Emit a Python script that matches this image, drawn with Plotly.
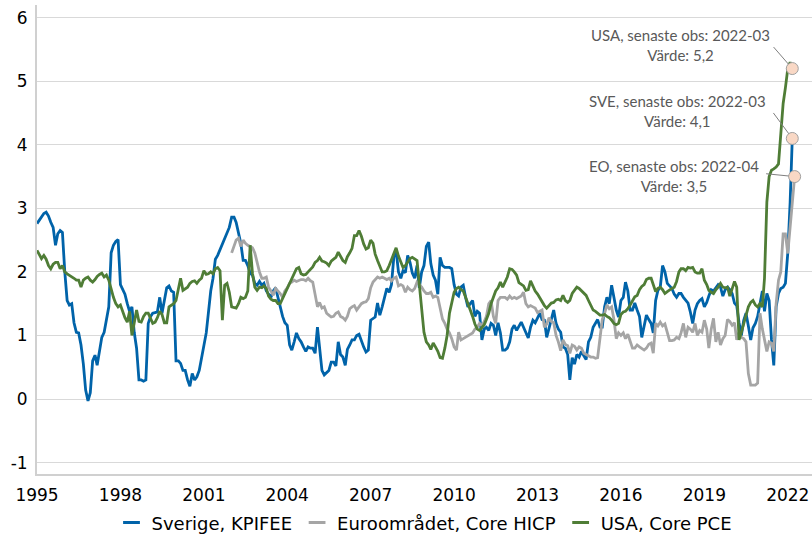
import pandas as pd
import plotly.graph_objects as go

# monthly core inflation, % y/y
sve_start = "1995-01-01"
sve = [
    2.76, 2.82, 2.86, 2.92, 2.94, 2.88, 2.78, 2.70, 2.42, 2.60, 2.65, 2.62,  # 1995
    2.00, 1.55, 1.48, 1.50, 1.20, 1.05, 1.04, 0.85, 0.55, 0.14, -0.03, 0.10,  # 1996
    0.60, 0.69, 0.53, 0.75, 0.97, 1.05, 1.28, 1.45, 2.30, 2.42, 2.48, 2.51,  # 1997
    1.80, 1.72, 1.65, 1.50, 1.38, 1.45, 1.05, 0.80, 0.30, 0.30, 0.28, 0.30,  # 1998
    1.19, 1.30, 1.35, 1.36, 1.37, 1.60, 1.35, 1.55, 1.75, 1.78, 1.70, 1.68,  # 1999
    0.60, 0.60, 0.56, 0.45, 0.45, 0.30, 0.20, 0.40, 0.30, 0.35, 0.45, 0.64,  # 2000
    0.82, 1.04, 1.35, 1.70, 1.90, 2.20, 2.26, 2.35, 2.46, 2.55, 2.62, 2.70,  # 2001
    2.86, 2.86, 2.78, 2.60, 2.45, 2.18, 2.18, 2.10, 1.98, 1.95, 1.82, 1.79,  # 2002
    1.85, 1.79, 1.82, 1.70, 1.64, 1.60, 1.70, 1.75, 1.60, 1.45, 1.30, 1.20,  # 2003
    1.16, 0.85, 0.77, 0.90, 1.04, 0.95, 0.90, 0.82, 0.75, 0.82, 0.80, 0.80,  # 2004
    0.72, 1.13, 0.75, 0.45, 0.38, 0.42, 0.45, 0.58, 0.58, 0.52, 0.90, 0.70,  # 2005
    0.66, 0.53, 0.78, 0.85, 0.93, 0.93, 1.00, 1.02, 0.90, 0.82, 0.74, 0.77,  # 2006
    1.24, 1.27, 1.29, 1.51, 1.32, 1.45, 1.62, 1.74, 1.68, 1.80, 2.23, 2.34,  # 2007
    2.00, 1.90, 2.02, 1.99, 2.26, 2.15, 1.98, 1.90, 2.10, 1.75, 2.00, 2.10,  # 2008
    2.40, 2.47, 2.13, 1.95, 1.87, 1.65, 2.23, 2.10, 2.07, 2.07, 2.07, 2.05,  # 2009
    1.80, 1.65, 1.62, 1.76, 1.79, 1.60, 1.45, 1.50, 1.55, 1.30, 1.38, 1.35,  # 2010
    0.93, 1.10, 1.13, 1.08, 1.19, 1.16, 1.00, 1.20, 1.04, 0.77, 0.77, 0.80,  # 2011
    0.90, 1.10, 1.16, 1.08, 1.15, 1.21, 1.13, 1.05, 0.96, 1.13, 1.24, 1.20,  # 2012
    1.27, 1.35, 1.25, 1.24, 0.97, 1.13, 1.24, 1.40, 1.19, 1.10, 1.05, 0.82,  # 2013
    0.80, 0.70, 0.30, 0.65, 0.55, 0.70, 0.66, 0.75, 0.68, 0.62, 0.90, 0.97,  # 2014
    1.13, 1.20, 1.25, 1.13, 1.13, 1.45, 1.60, 1.50, 1.79, 1.60, 1.40, 1.29,  # 2015
    1.55, 1.60, 1.84, 1.70, 1.40, 1.40, 1.51, 1.40, 1.30, 0.97, 1.13, 1.32,  # 2016
    1.25, 1.19, 1.04, 1.55, 1.71, 1.76, 2.10, 2.00, 1.82, 1.78, 1.74, 1.65,  # 2017
    1.60, 1.66, 1.66, 1.60, 1.55, 1.51, 1.37, 1.19, 1.40, 1.50, 1.55, 1.58,  # 2018
    1.45, 1.52, 1.62, 1.72, 1.70, 1.75, 1.80, 1.76, 1.62, 1.72, 1.76, 1.72,  # 2019
    1.66, 1.51, 1.47, 1.20, 1.00, 1.24, 1.35, 1.15, 0.93, 1.12, 1.19, 1.30,  # 2020
    1.50, 1.70, 1.38, 1.66, 1.55, 0.93, 0.53, 1.45, 1.66, 1.74, 1.76, 1.82,  # 2021
    2.30, 3.10, 4.10,                                                        # 2022
]

eo_start = "2002-01-01"
eo = [
    2.30, 2.40, 2.50, 2.53, 2.40, 2.50, 2.45, 2.42, 2.40, 2.38, 2.30, 2.15,  # 2002
    2.00, 1.90, 1.90, 1.92, 1.76, 1.70, 1.63, 1.74, 1.70, 1.66, 1.60, 1.70,  # 2003
    1.75, 1.82, 1.84, 1.87, 1.85, 1.87, 1.88, 1.88, 1.86, 1.90, 1.86, 1.84,  # 2004
    1.63, 1.45, 1.52, 1.43, 1.45, 1.35, 1.32, 1.29, 1.30, 1.35, 1.37, 1.30,  # 2005
    1.28, 1.24, 1.30, 1.42, 1.45, 1.47, 1.40, 1.46, 1.50, 1.52, 1.53, 1.58,  # 2006
    1.75, 1.84, 1.88, 1.92, 1.90, 1.92, 1.90, 1.88, 1.90, 1.86, 1.90, 1.92,  # 2007
    1.78, 1.80, 1.78, 1.68, 1.76, 1.72, 1.70, 1.74, 1.84, 1.80, 1.76, 1.70,  # 2008
    1.66, 1.66, 1.68, 1.60, 1.62, 1.60, 1.40, 1.26, 1.19, 1.10, 1.04, 0.95,  # 2009
    0.82, 0.77, 1.05, 0.93, 0.95, 0.97, 1.00, 1.02, 1.04, 1.10, 1.13, 1.19,  # 2010
    1.15, 1.22, 1.30, 1.50, 1.55, 1.30, 1.19, 1.55, 1.60, 1.60, 1.60, 1.57,  # 2011
    1.62, 1.58, 1.60, 1.58, 1.60, 1.62, 1.68, 1.50, 1.45, 1.47, 1.45, 1.43,  # 2012
    1.36, 1.38, 1.40, 1.13, 1.18, 1.28, 1.22, 1.20, 1.00, 0.90, 0.76, 0.93,  # 2013
    0.86, 0.84, 0.72, 0.85, 0.83, 0.77, 0.82, 0.80, 0.72, 0.70, 0.68, 0.66,  # 2014
    0.66, 0.64, 0.65, 0.97, 1.25, 1.35, 1.48, 1.42, 1.45, 1.25, 0.95, 1.04,  # 2015
    1.00, 1.04, 0.95, 1.02, 0.90, 0.80, 0.80, 0.85, 0.82, 0.80, 0.77, 0.80,  # 2016
    0.86, 0.88, 0.72, 1.19, 1.15, 1.21, 1.15, 1.18, 1.04, 0.92, 0.92, 0.93,  # 2017
    0.97, 0.95, 1.04, 1.19, 0.97, 1.13, 1.10, 1.05, 1.19, 1.00, 1.08, 1.05,  # 2018
    1.24, 1.10, 0.80, 1.10, 1.27, 0.90, 1.05, 0.85, 0.95, 1.00, 1.25, 1.22,  # 2019
    1.16, 1.20, 0.93, 1.05, 0.97, 0.95, 0.90, 0.40, 0.22, 0.22, 0.22, 0.25,  # 2020
    1.35, 1.10, 0.95, 0.75, 0.90, 0.88, 0.75, 1.50, 1.87, 2.00, 2.60, 2.60,  # 2021
    2.29, 2.70, 3.00, 3.50,                                                  # 2022
]

usa_start = "1995-01-01"
usa = [
    2.34, 2.26, 2.21, 2.26, 2.20, 2.10, 2.05, 2.12, 2.15, 2.15, 2.05, 2.10,  # 1995
    2.00, 1.97, 1.95, 1.92, 1.90, 1.87, 1.87, 1.76, 1.87, 1.90, 1.92, 1.87,  # 1996
    1.84, 1.88, 1.93, 1.96, 1.98, 1.92, 1.95, 1.87, 1.71, 1.60, 1.50, 1.45,  # 1997
    1.48, 1.37, 1.28, 1.21, 1.38, 1.00, 1.19, 1.40, 1.22, 1.21, 1.30, 1.35,  # 1998
    1.35, 1.25, 1.19, 1.21, 1.28, 1.38, 1.33, 1.20, 1.20, 1.45, 1.48, 1.50,  # 1999
    1.55, 1.71, 1.90, 1.71, 1.74, 1.76, 1.82, 1.85, 1.86, 1.82, 1.87, 1.90,  # 2000
    2.02, 1.96, 1.97, 2.00, 1.97, 2.05, 2.07, 2.02, 1.24, 1.79, 1.82, 1.68,  # 2001
    1.45, 1.44, 1.43, 1.50, 1.60, 1.58, 1.60, 1.70, 2.42, 1.98, 1.76, 1.71,  # 2002
    1.76, 1.75, 1.78, 1.74, 1.62, 1.57, 1.55, 1.55, 1.50, 1.50, 1.58, 1.68,  # 2003
    1.76, 1.82, 1.90, 1.98, 2.05, 2.07, 1.97, 1.95, 1.96, 2.00, 2.04, 2.08,  # 2004
    2.15, 2.18, 2.23, 2.17, 2.16, 2.14, 2.10, 2.17, 2.20, 2.23, 2.31, 2.25,  # 2005
    2.18, 2.15, 2.24, 2.30, 2.37, 2.57, 2.57, 2.65, 2.56, 2.44, 2.36, 2.38,  # 2006
    2.50, 2.45, 2.28, 2.18, 2.08, 2.00, 2.00, 2.02, 2.10, 2.20, 2.30, 2.38,  # 2007
    2.25, 2.15, 2.07, 2.10, 2.16, 2.21, 2.23, 2.20, 2.18, 1.80, 1.40, 1.05,  # 2008
    0.90, 0.85, 0.78, 0.88, 0.82, 0.75, 0.65, 0.64, 0.80, 1.00, 1.35, 1.51,  # 2009
    1.68, 1.74, 1.76, 1.72, 1.70, 1.60, 1.50, 1.43, 1.30, 1.18, 1.10, 1.08,  # 2010
    1.13, 1.17, 1.25, 1.35, 1.50, 1.60, 1.70, 1.75, 1.84, 1.76, 1.85, 1.92,  # 2011
    2.05, 2.04, 2.00, 1.95, 1.83, 1.80, 1.78, 1.71, 1.72, 1.86, 1.77, 1.70,  # 2012
    1.65, 1.59, 1.52, 1.47, 1.43, 1.47, 1.51, 1.52, 1.56, 1.57, 1.55, 1.63,  # 2013
    1.55, 1.52, 1.55, 1.66, 1.72, 1.76, 1.74, 1.70, 1.66, 1.63, 1.55, 1.47,  # 2014
    1.40, 1.38, 1.35, 1.32, 1.32, 1.33, 1.30, 1.28, 1.24, 1.19, 1.17, 1.19,  # 2015
    1.33, 1.37, 1.38, 1.42, 1.48, 1.56, 1.61, 1.63, 1.72, 1.77, 1.80, 1.88,  # 2016
    1.90, 1.90, 1.78, 1.69, 1.74, 1.76, 1.72, 1.66, 1.69, 1.72, 1.74, 1.76,  # 2017
    1.85, 2.00, 2.05, 2.05, 2.02, 2.07, 2.06, 2.07, 2.00, 1.98, 1.98, 2.05,  # 2018
    1.87, 1.80, 1.71, 1.68, 1.66, 1.72, 1.76, 1.82, 1.76, 1.75, 1.76, 1.62,  # 2019
    1.72, 1.85, 1.76, 0.93, 1.05, 1.20, 1.30, 1.45, 1.52, 1.55, 1.48, 1.45,  # 2020
    1.50, 1.45, 1.90, 3.10, 3.50, 3.60, 3.62, 3.65, 3.70, 4.15, 4.65, 4.90,  # 2021
    5.20, 5.30, 5.20,                                                        # 2022
]

names = ["Sverige, KPIFEE", "Euroområdet, Core HICP", "USA, Core PCE"]
short = ["SVE", "EO", "USA"]
colors = ["#0063a9", "#a5a5a5", "#4f7d36"]
year_ticks = list(range(1995, 2023, 3))
y_ticks = [-1, 0, 1, 2, 3, 4, 5, 6]

series = [(sve_start, sve), (eo_start, eo), (usa_start, usa)]

fig = go.Figure()

for (start, vals), name, color in zip(series, names, colors):
    dates = pd.date_range(start, periods=len(vals), freq="MS")
    fig.add_trace(go.Scatter(x=dates, y=vals, mode="lines", name=name,
                             line=dict(color=color, width=2.8), showlegend=False))

# short dashes for the legend
for name, color in zip(names, colors):
    fig.add_trace(go.Scatter(x=[None], y=[None], mode="markers", name=name,
                             marker=dict(symbol="line-ew", size=12,
                                         line=dict(color=color, width=3))))

# last observation markers + labels
label_pos = {"USA": (0.8297, 0.9147, -20, -23),
             "SVE": (0.827, 0.774, -20, -27),
             "EO": (0.822, 0.635, -30, -3)}
for (start, vals), tag in zip(series, short):
    dates = pd.date_range(start, periods=len(vals), freq="MS")
    last_x, last_y = dates[-1], vals[-1]
    fig.add_trace(go.Scatter(x=[last_x], y=[last_y], mode="markers", showlegend=False,
                             marker=dict(size=12, color="#f9d8c5",
                                         line=dict(color="#a0a0a0", width=1))))
    px_, py_, ax, ay = label_pos[tag]
    txt = f"{tag}, senaste obs: {last_x:%Y-%m}<br>Värde: {last_y:.1f}".replace(".", ",")
    fig.add_annotation(x=px_, y=py_, xref="paper", yref="paper", text=txt,
                       xanchor="center", yanchor="middle",
                       showarrow=False, align="center",
                       font=dict(family="Lato", size=15, color="#595959"))
    fig.add_annotation(x=last_x, y=last_y, text="", showarrow=True, arrowhead=0,
                       arrowwidth=1, arrowcolor="#7f7f7f", ax=ax, ay=ay, standoff=6)

fig.update_layout(
    width=812, height=538,
    margin=dict(l=37, r=0, t=5, b=64, pad=0, autoexpand=False),
    paper_bgcolor="white", plot_bgcolor="white",
    font=dict(family="DejaVu Sans", color="#000000"),
    legend=dict(orientation="h", x=0.5, xanchor="center", y=-0.104, yanchor="middle",
                font=dict(size=18), itemwidth=30, tracegroupgap=0),
    xaxis=dict(type="date", range=["1995-01-01", "2022-11-15"],
               tickvals=[f"{y}-01-01" for y in year_ticks],
               ticktext=[str(y) for y in year_ticks],
               showgrid=False, showline=True, linecolor="#d0d0d0", linewidth=2,
               ticks="", tickfont=dict(size=17), zeroline=False,
               ticklabelstandoff=5),
    yaxis=dict(range=[-1.18, 6.2], tickvals=y_ticks,
               ticktext=[str(v) for v in y_ticks],
               showgrid=True, gridcolor="#d9d9d9", gridwidth=1,
               showline=True, linecolor="#d0d0d0", linewidth=2,
               ticks="", tickfont=dict(size=17), zeroline=False,
               ticklabelstandoff=4),
)

fig.write_html("out.html", config={"displayModeBar": False},
               post_script="document.body.style.margin='0';")
